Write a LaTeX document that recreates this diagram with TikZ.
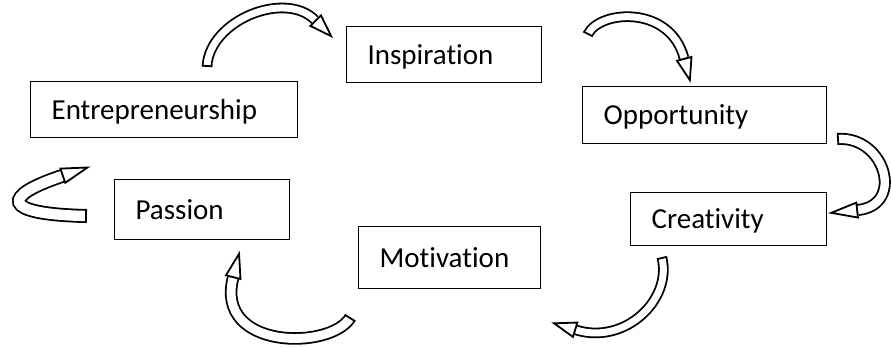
\documentclass[tikz,border=0pt]{standalone}
\usepackage{fontspec}
\setmainfont{Carlito}[Ligatures={NoCommon}]
\usetikzlibrary{shapes.geometric}
\begin{document}
\begin{tikzpicture}[x=1pt,y=-1pt,
  box/.style={draw=black, line width=1.2pt, rectangle, anchor=north west,
    inner xsep=21pt, inner ysep=0pt, align=left,
    font=\fontsize{29}{35}\selectfont, text height=25pt, text depth=6pt},
  % outer width, inner (white) width of the ribbon
  bandarrow/.style 2 args={draw=black, line width=#1,
    postaction={draw=white, line width=#2}},
  tailcap/.style={pos=0, sloped, allow upside down, rectangle, draw=black,
    line width=1.8pt, inner sep=0pt, minimum width=0pt, minimum height=#1},
  tailcap/.default=10.6pt,
  headtip/.style={pos=1, sloped, allow upside down, anchor=lower side,
    isosceles triangle, isosceles triangle stretches, draw=black, fill=white,
    line width=1.8pt, inner sep=0pt, minimum width=15pt, minimum height=#1},
  headtip/.default=22pt
]
\useasboundingbox (0,0) rectangle (891,347);

% stages of the cycle
\node[box, minimum width=267pt, minimum height=56pt, text width=225pt] (entre) at (30,81)  {Entrepreneurship};
\node[box, minimum width=195pt, minimum height=56pt, text width=153pt] (inspi) at (346,26) {Inspiration};
\node[box, minimum width=244pt, minimum height=57pt, text width=202pt] (oppor) at (582,86) {Opportunity};
\node[box, minimum width=196pt, minimum height=53pt, text width=154pt] (creat) at (630,192) {Creativity};
\node[box, minimum width=182pt, minimum height=62pt, text width=140pt] (motiv) at (358,226) {Motivation};
\node[box, minimum width=175pt, minimum height=60pt, text width=133pt] (passi) at (114,179) {Passion};

% ends of the curved block arrows
\coordinate (a0) at (207,66);  \coordinate (a1) at (315,20);
\coordinate (b0) at (588,34);  \coordinate (b1) at (684,58);
\coordinate (c0) at (838,139); \coordinate (c1) at (858,210);
\coordinate (d0) at (662,258); \coordinate (d1) at (576,330);
\coordinate (e0) at (350,318); \coordinate (e1) at (233,278);
\coordinate (f0) at (86,216);  \coordinate (f1) at (62,176);

% curved block arrows between the stages
\draw[bandarrow={10.6pt}{7pt}] (a0) .. controls (210,20) and (285,-10) .. (a1)
  node[tailcap] (atail) {} node[headtip] (ahead) {};
\draw[bandarrow={10.6pt}{7pt}] (b0) .. controls (600,10) and (670,5) .. (b1)
  node[tailcap] (btail) {} node[headtip] (bhead) {};
\draw[bandarrow={12pt}{8.4pt}] (c0) .. controls (885,136) and (905,205) .. (c1)
  node[tailcap=12pt] (ctail) {} node[headtip=26pt] (chead) {};
\draw[bandarrow={10.6pt}{7pt}] (d0) .. controls (672,300) and (625,345) .. (d1)
  node[tailcap] (dtail) {} node[headtip] (dhead) {};
\draw[bandarrow={12.5pt}{8.9pt}] (e0) .. controls (330,350) and (215,350) .. (e1)
  node[tailcap=12.5pt] (etail) {} node[headtip=24pt] (ehead) {};
\draw[bandarrow={14pt}{10.4pt}] (f0) .. controls (0,214) and (2,196) .. (f1)
  node[tailcap=14pt] (ftail) {} node[headtip=26pt] (fhead) {};
\end{tikzpicture}
\end{document}
